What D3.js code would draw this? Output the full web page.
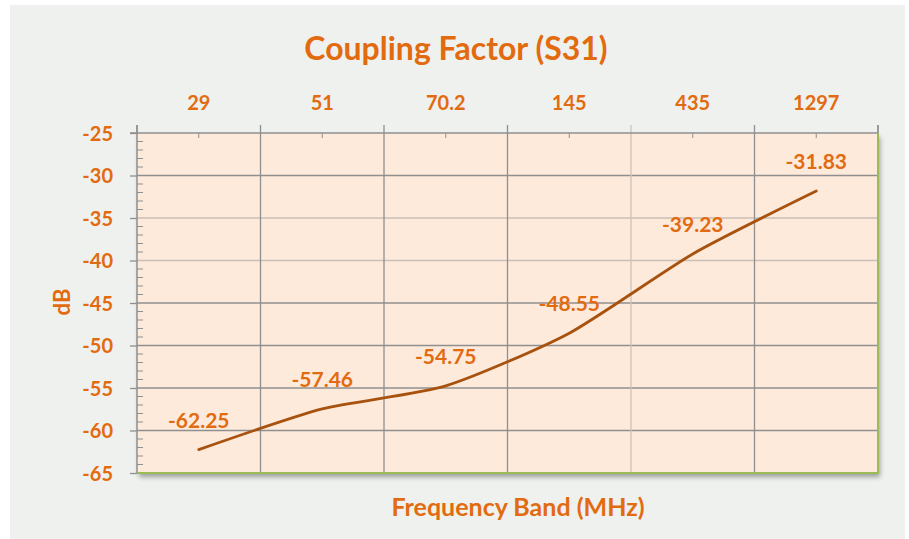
<!DOCTYPE html>
<html><head><meta charset="utf-8">
<script src="https://cdn.jsdelivr.net/npm/d3@7"></script>
<style>
html,body{margin:0;padding:0;background:#fff;}
svg{display:block;}
text{font-family:Lato,"Open Sans",sans-serif;font-weight:bold;fill:#e26b10;}
</style></head>
<body>
<svg id="chart" width="909" height="539"></svg>
<script>
const categories = ["29", "51", "70.2", "145", "435", "1297"];
const values = [-62.25, -57.46, -54.75, -48.55, -39.23, -31.83];
const yTicks = [-25, -30, -35, -40, -45, -50, -55, -60, -65];
const title = "Coupling Factor (S31)";
const xTitle = "Frequency Band (MHz)";
const yTitle = "dB";

const svg = d3.select("#chart");
const plot = {left: 137, right: 878, top: 133, bottom: 473};

svg.append("rect").attr("x", 10).attr("y", 5).attr("width", 895).attr("height", 534).attr("fill", "#eff1ee");

const defs = svg.append("defs");
const f = defs.append("filter").attr("id", "sh").attr("x", "-5%").attr("y", "-5%").attr("width", "115%").attr("height", "120%");
f.append("feDropShadow").attr("dx", 2).attr("dy", 4).attr("stdDeviation", 2.5).attr("flood-color", "#000").attr("flood-opacity", 0.35);

const x = d3.scaleBand().domain(categories).range([plot.left, plot.right]).padding(0);
const y = d3.scaleLinear().domain([-65, -25]).range([plot.bottom, plot.top]);
const hy = v => String(v).replace("\u2212", "-");

svg.append("rect").attr("x", plot.left).attr("y", plot.top)
  .attr("width", plot.right - plot.left).attr("height", plot.bottom - plot.top)
  .attr("fill", "#fdeadb").attr("filter", "url(#sh)");

const faintH = new Set([-35, -40]);
svg.append("g").selectAll("line").data(yTicks.filter(d => d !== -25 && d !== -65)).join("line")
  .attr("x1", plot.left).attr("x2", plot.right)
  .attr("y1", d => y(d)).attr("y2", d => y(d))
  .attr("stroke", d => faintH.has(d) ? "#c9bfb6" : "#8f8f8f").attr("stroke-width", 1.3);

const bounds = categories.slice(1).map(c => x(c));
svg.append("g").selectAll("line").data(bounds).join("line")
  .attr("x1", d => d).attr("x2", d => d)
  .attr("y1", plot.top - 8).attr("y2", plot.bottom)
  .attr("stroke", (d, i) => i === 3 ? "#cdc3ba" : "#8f8f8f").attr("stroke-width", 1.3);

const topAxis = d3.axisTop(x).tickSize(0).tickPadding(23);
const gt = svg.append("g").attr("transform", `translate(0,${plot.top})`).call(topAxis);
gt.select(".domain").remove();
gt.selectAll("text").style("font-size", "20px").attr("fill", "#e26b10");
svg.append("line").attr("x1", plot.left - 7).attr("x2", plot.right).attr("y1", plot.top).attr("y2", plot.top)
  .attr("stroke", "#8f8f8f").attr("stroke-width", 1.3);
svg.append("g").selectAll("line").data(categories).join("line")
  .attr("x1", d => x(d) + x.bandwidth() / 2).attr("x2", d => x(d) + x.bandwidth() / 2)
  .attr("y1", plot.top).attr("y2", plot.top + 5).attr("stroke", "#8f8f8f").attr("stroke-width", 1);
[plot.left, plot.right].forEach(px => {
  svg.append("line").attr("x1", px).attr("x2", px).attr("y1", plot.top - 8).attr("y2", plot.top)
    .attr("stroke", "#8f8f8f").attr("stroke-width", 1.3);
});

const leftAxis = d3.axisLeft(y).tickValues(yTicks).tickSize(7).tickPadding(17).tickFormat(d => hy(d));
const gl = svg.append("g").attr("transform", `translate(${plot.left},0)`).call(leftAxis);
gl.select(".domain").remove();
gl.selectAll("line").attr("stroke", "#8f8f8f").attr("stroke-width", 1.3);
gl.selectAll("text").style("font-size", "20px").attr("fill", "#e26b10").attr("dy", "0.36em");
const minor = d3.range(-64, -25).filter(v => v % 5 !== 0);
svg.append("g").selectAll("line").data(minor).join("line")
  .attr("x1", plot.left).attr("x2", plot.left + 6)
  .attr("y1", d => y(d)).attr("y2", d => y(d))
  .attr("stroke", "#8f8f8f").attr("stroke-width", 1);
svg.append("line").attr("x1", plot.left).attr("x2", plot.left).attr("y1", plot.top - 8).attr("y2", plot.bottom)
  .attr("stroke", "#8f8f8f").attr("stroke-width", 1.5);

svg.append("line").attr("x1", plot.left).attr("x2", plot.right + 1).attr("y1", plot.bottom).attr("y2", plot.bottom)
  .attr("stroke", "#9bbb59").attr("stroke-width", 2);
svg.append("line").attr("x1", plot.right).attr("x2", plot.right).attr("y1", plot.top).attr("y2", plot.bottom)
  .attr("stroke", "#9bbb59").attr("stroke-width", 2);
svg.append("line").attr("x1", plot.right).attr("x2", plot.right).attr("y1", plot.top - 8).attr("y2", plot.top)
  .attr("stroke", "#8f8f8f").attr("stroke-width", 1.3);

const pts = categories.map((c, i) => [x(c) + x.bandwidth() / 2, y(values[i])]);
svg.append("path").datum(pts)
  .attr("d", d3.line().curve(d3.curveCardinal.tension(0.35)))
  .attr("fill", "none").attr("stroke", "#a8520f").attr("stroke-width", 2.8).attr("stroke-linecap", "round");

svg.append("g").selectAll("text").data(values).join("text")
  .attr("x", (d, i) => pts[i][0]).attr("y", (d, i) => pts[i][1] - 22)
  .attr("text-anchor", "middle").style("font-size", "21px").attr("fill", "#e26b10")
  .text(d => d.toFixed(2));

svg.append("text").attr("x", 456).attr("y", 60).attr("text-anchor", "middle").style("font-size", "32px").text(title);
svg.append("text").attr("x", 518).attr("y", 516).attr("text-anchor", "middle").style("font-size", "25px").text(xTitle);
svg.append("text").attr("transform", "translate(70,302) rotate(-90)").attr("text-anchor", "middle").style("font-size", "22px").text(yTitle);
</script>
</body></html>
